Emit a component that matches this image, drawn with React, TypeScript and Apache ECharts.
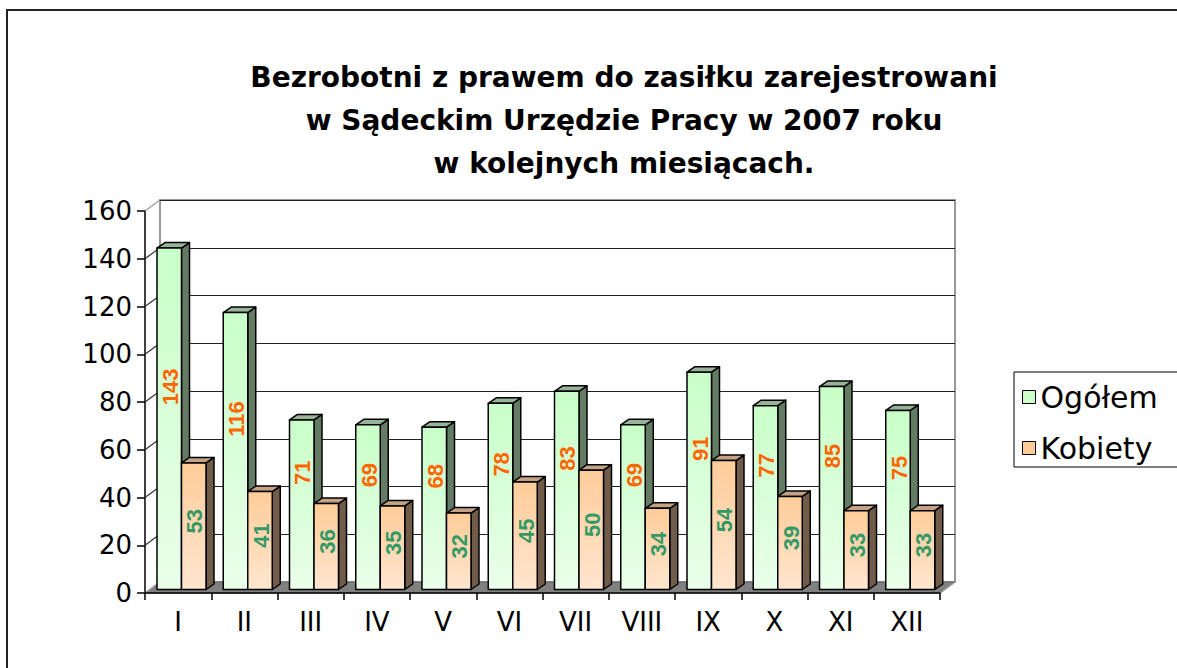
import React, { useEffect, useRef } from "react";
import * as echarts from "echarts";

const categories = ["I", "II", "III", "IV", "V", "VI", "VII", "VIII", "IX", "X", "XI", "XII"];
const ogolem = [143, 116, 71, 69, 68, 78, 83, 69, 91, 77, 85, 75];
const kobiety = [53, 41, 36, 35, 32, 45, 50, 34, 54, 39, 33, 33];
const yTicks = [0, 20, 40, 60, 80, 100, 120, 140, 160];
const seriesNames = ["Ogółem", "Kobiety"];
const titleLines = [
  "Bezrobotni z prawem do zasiłku zarejestrowani",
  "w Sądeckim Urzędzie Pracy w 2007 roku",
  "w kolejnych miesiącach.",
];

const DEPTH_X = 15;
const DEPTH_Y = -11;
const BAR_SHIFT_Y = -3.5;
const BAR_DX = 8;
const BAR_DY = -5.5;

const styles = [
  {
    front: ["#c8ffc8", "#eaffea"],
    side: "#647c64",
    top: "#98b498",
    label: "#ff6600",
    from: 12 / 66.25,
    to: 36.5 / 66.25,
    labelOffset: -32,
  },
  {
    front: ["#ffcc99", "#ffe6cf"],
    side: "#715c4a",
    top: "#c4a286",
    label: "#339966",
    from: 36.5 / 66.25,
    to: 61 / 66.25,
    labelOffset: -5,
  },
];

function barRenderer(k: number) {
  const s = styles[k];
  return (params: any, api: any) => {
    const idx = api.value(0);
    const val = api.value(1);
    const c = api.coord([idx, val]);
    const b = api.coord([idx, 0]);
    const mid = api.coord([idx, val / 2]);
    const w = api.size([1, 0])[0];
    const L = c[0] - w / 2;
    const x0 = L + s.from * w;
    const x1 = L + s.to * w;
    const yt = c[1] + BAR_SHIFT_Y;
    const yb = b[1] + BAR_SHIFT_Y;
    const stroke = { stroke: "#000", lineWidth: 1.5, lineJoin: "round" };
    return {
      type: "group",
      children: [
        {
          type: "polygon",
          shape: {
            points: [
              [x1, yt],
              [x1 + BAR_DX, yt + BAR_DY],
              [x1 + BAR_DX, yb + BAR_DY],
              [x1, yb],
            ],
          },
          style: { fill: s.side, ...stroke },
        },
        {
          type: "polygon",
          shape: {
            points: [
              [x0, yt],
              [x1, yt],
              [x1 + BAR_DX, yt + BAR_DY],
              [x0 + BAR_DX, yt + BAR_DY],
            ],
          },
          style: { fill: s.top, ...stroke },
        },
        {
          type: "rect",
          shape: { x: x0, y: yt, width: x1 - x0, height: yb - yt },
          style: {
            fill: new echarts.graphic.LinearGradient(0, 0, 0, 1, [
              { offset: 0, color: s.front[0] },
              { offset: 1, color: s.front[1] },
            ]),
            ...stroke,
          },
        },
        {
          type: "text",
          x: (x0 + x1) / 2 + 1,
          y: mid[1] + BAR_SHIFT_Y + s.labelOffset,
          rotation: Math.PI / 2,
          style: {
            text: String(val),
            fill: s.label,
            font: 'bold 22px "Liberation Sans", Arial, sans-serif',
            align: "center",
            verticalAlign: "middle",
          },
        },
      ],
    };
  };
}

export default function App() {
  const ref = useRef<HTMLDivElement>(null);
  useEffect(() => {
    if (!ref.current) return;
    const chart = echarts.init(ref.current, null, { renderer: "svg" });
    const axisFont = { fontFamily: '"DejaVu Sans", sans-serif', fontSize: 25, color: "#000" };
    const option: any = {
      animation: false,
      backgroundColor: "#fff",
      title: {
        text: titleLines.join("\n"),
        left: 619,
        top: 51,
        textAlign: "center",
        textStyle: {
          fontFamily: '"DejaVu Sans", sans-serif',
          fontWeight: "bold",
          fontSize: 28,
          lineHeight: 43,
          color: "#000",
        },
      },
      legend: {
        data: [
          { name: seriesNames[0], itemStyle: { color: "#ccffcc", borderColor: "#000", borderWidth: 1 } },
          { name: seriesNames[1], itemStyle: { color: "#ffcc99", borderColor: "#000", borderWidth: 1 } },
        ],
        orient: "vertical",
        left: 1014,
        top: 372,
        icon: "rect",
        itemWidth: 13,
        itemHeight: 13,
        itemGap: 21,
        textStyle: { ...axisFont, fontSize: 30, lineHeight: 30 },
        borderColor: "#000",
        borderWidth: 1,
        borderRadius: 0,
        padding: [10, 30, 4, 8],
      },
      grid: [
        { left: 145, right: 237, top: 211, bottom: 75 },
        {
          left: 145 + DEPTH_X,
          right: 237 - DEPTH_X,
          top: 211 + DEPTH_Y,
          bottom: 75 - DEPTH_Y,
          show: true,
          borderColor: "#999",
          borderWidth: 2,
          backgroundColor: "#fff",
        },
      ],
      xAxis: [
        {
          type: "category",
          gridIndex: 0,
          data: categories,
          axisLine: { lineStyle: { color: "#000", width: 1.5 } },
          axisTick: { show: true, length: 7, lineStyle: { color: "#000", width: 1.5 } },
          axisLabel: { ...axisFont, fontSize: 26, margin: 16 },
          splitLine: { show: false },
          z: 10,
        },
        {
          type: "category",
          gridIndex: 1,
          data: categories,
          show: false,
        },
      ],
      yAxis: [
        {
          type: "value",
          gridIndex: 0,
          min: 0,
          max: 160,
          interval: 20,
          axisLine: { show: true, lineStyle: { color: "#000", width: 1.5 } },
          axisTick: { show: true, length: 8, lineStyle: { color: "#000", width: 1.5 } },
          axisLabel: { ...axisFont, fontSize: 26, margin: 13 },
          splitLine: { show: false },
        },
        {
          type: "value",
          gridIndex: 1,
          min: 0,
          max: 160,
          interval: 20,
          axisLine: { show: false },
          axisTick: { show: false },
          axisLabel: { show: false },
          splitLine: { show: true, lineStyle: { color: "#222", width: 1.2 } },
        },
      ],
      graphic: [
        {
          type: "polyline",
          shape: { points: [[7, 668], [7, 10], [1177, 10]] },
          style: { stroke: "#222", lineWidth: 2, fill: null },
          z: 100,
        },
      ],
      series: [
        {
          type: "custom",
          name: "floor",
          xAxisIndex: 0,
          yAxisIndex: 0,
          data: [[0, 0]],
          silent: true,
          renderItem: (params: any, api: any) => {
            const w = api.size([1, 0])[0];
            const a = api.coord([0, 0]);
            const b = api.coord([categories.length - 1, 0]);
            const xl = a[0] - w / 2;
            const xr = b[0] + w / 2;
            const y = a[1];
            return {
              type: "polygon",
              shape: {
                points: [
                  [xl, y],
                  [xr, y],
                  [xr + DEPTH_X, y + DEPTH_Y],
                  [xl + DEPTH_X, y + DEPTH_Y],
                ],
              },
              style: { fill: "#808080", stroke: "#666", lineWidth: 1 },
            };
          },
        },
        {
          type: "custom",
          name: "wall",
          xAxisIndex: 0,
          yAxisIndex: 0,
          data: yTicks.map((v) => [0, v]),
          silent: true,
          renderItem: (params: any, api: any) => {
            const w = api.size([1, 0])[0];
            const v = api.value(1);
            const p = api.coord([0, v]);
            const x = p[0] - w / 2;
            return {
              type: "line",
              shape: { x1: x, y1: p[1], x2: x + DEPTH_X, y2: p[1] + DEPTH_Y },
              style: { stroke: v === 160 || v === 0 ? "#999" : "#333", lineWidth: 1.2 },
            };
          },
        },
        {
          type: "custom",
          name: "floorRight",
          xAxisIndex: 0,
          yAxisIndex: 0,
          data: [[categories.length - 1, 0]],
          silent: true,
          renderItem: (params: any, api: any) => {
            const w = api.size([1, 0])[0];
            const p = api.coord([categories.length - 1, 0]);
            const x = p[0] + w / 2;
            return {
              type: "line",
              shape: { x1: x, y1: p[1], x2: x + DEPTH_X, y2: p[1] + DEPTH_Y },
              style: { stroke: "#999", lineWidth: 1.5 },
            };
          },
        },
        {
          type: "custom",
          name: seriesNames[0],
          xAxisIndex: 0,
          yAxisIndex: 0,
          itemStyle: { color: "#ccffcc" },
          data: ogolem.map((v, i) => [i, v]),
          encode: { x: 0, y: 1 },
          renderItem: barRenderer(0),
          z: 5,
        },
        {
          type: "custom",
          name: seriesNames[1],
          xAxisIndex: 0,
          yAxisIndex: 0,
          itemStyle: { color: "#ffcc99" },
          data: kobiety.map((v, i) => [i, v]),
          encode: { x: 0, y: 1 },
          renderItem: barRenderer(1),
          z: 6,
        },
      ],
    };
    chart.setOption(option);
    return () => chart.dispose();
  }, []);
  return (
    <div
      ref={ref}
      style={{ position: "fixed", left: 0, top: 0, width: 1177, height: 668, background: "#fff" }}
    />
  );
}
